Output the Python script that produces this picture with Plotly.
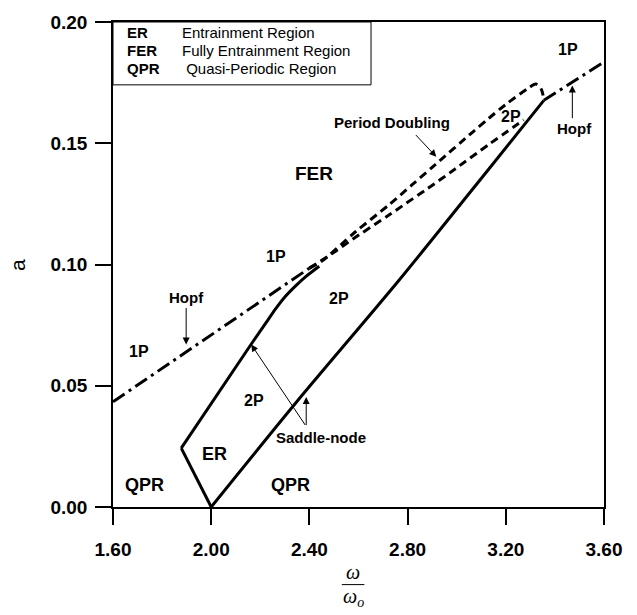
import plotly.graph_objects as go

# ---- data ----
hopf_left_x = [1.60, 2.40]
hopf_left_y = [0.0434, 0.0985]
hopf_right_x = [3.355, 3.60]
hopf_right_y = [0.1677, 0.1835]

er_v_x = [2.00, 1.878]
er_v_y = [0.000, 0.0243]
sn_left_x = [1.878, 2.162, 2.22, 2.263, 2.30, 2.345, 2.39, 2.44]
sn_left_y = [0.0243, 0.0670, 0.0755, 0.0818, 0.0866, 0.0913, 0.0954, 0.0993]
sn_right_x = [2.00, 2.345, 2.765, 3.131, 3.355]
sn_right_y = [0.000, 0.0430, 0.0935, 0.1394, 0.1677]

pd_upper_x = [2.40, 2.452, 2.589, 2.724, 2.82, 2.914, 3.064, 3.131, 3.20, 3.29, 3.322, 3.345, 3.355]
pd_upper_y = [0.0985, 0.1015, 0.1136, 0.1246, 0.1330, 0.1413, 0.1545, 0.1603, 0.1660, 0.1726, 0.1744, 0.1722, 0.1677]
pd_lower_x = [2.40, 2.50, 2.561, 2.724, 2.928, 2.995, 3.131, 3.273]
pd_lower_y = [0.0985, 0.1050, 0.1094, 0.1204, 0.1346, 0.1395, 0.1495, 0.1596]

x_ticks = [1.6, 2.0, 2.4, 2.8, 3.2, 3.6]
x_ticktext = ["1.60", "2.00", "2.40", "2.80", "3.20", "3.60"]
y_ticks = [0.0, 0.05, 0.10, 0.15, 0.20]
y_ticktext = ["0.00", "0.05", "0.10", "0.15", "0.20"]

region_labels = [("FER", 2.42, 0.1374, 19), ("ER", 2.013, 0.0218, 18),
                 ("QPR", 2.325, 0.0089, 18), ("QPR", 1.728, 0.0089, 18)]
state_labels = [("1P", 3.452, 0.1886), ("2P", 3.22, 0.1610), ("1P", 2.263, 0.1035),
                ("2P", 2.52, 0.0860), ("1P", 1.705, 0.0643), ("2P", 2.175, 0.0441)]
text_labels = [("Period Doubling", 2.736, 0.1585), ("Hopf", 3.479, 0.1562),
               ("Hopf", 1.898, 0.0862), ("Saddle-node", 2.447, 0.0288)]
arrows = [((2.828, 0.1540), (2.917, 0.1444)),
          ((3.471, 0.1597), (3.471, 0.1738)),
          ((1.898, 0.0827), (1.898, 0.0670)),
          ((2.387, 0.0332), (2.163, 0.0670)),
          ((2.387, 0.0332), (2.387, 0.0454))]
legend_abbr = ["ER", "FER", "QPR"]
legend_desc = ["Entrainment Region", "Fully Entrainment Region", " Quasi-Periodic Region"]

FONT = "Arial, Liberation Sans, sans-serif"
SERIF = "Liberation Serif, Times New Roman, serif"
fig = go.Figure()

def add_line(xs, ys, dash, shape="linear"):
    fig.add_trace(go.Scatter(x=xs, y=ys, mode="lines",
                             line=dict(color="black", width=3, dash=dash, shape=shape,
                                       smoothing=0.8),
                             showlegend=False, hoverinfo="skip"))

dashdot = "14px,5px,3px,5px"
add_line(hopf_left_x, hopf_left_y, dashdot)
add_line(hopf_right_x, hopf_right_y, dashdot)
add_line(er_v_x, er_v_y, "solid")
add_line(sn_left_x, sn_left_y, "solid", "spline")
add_line(sn_right_x, sn_right_y, "solid", "spline")
add_line(pd_upper_x, pd_upper_y, "8px,5px", "spline")
add_line(pd_lower_x, pd_lower_y, "8px,5px", "spline")

ann = []
for t, x, y, s in region_labels:
    ann.append(dict(x=x, y=y, text=t, showarrow=False,
                    font=dict(family=FONT, size=s, color="black", weight="bold")))
for t, x, y in state_labels:
    ann.append(dict(x=x, y=y, text=t, showarrow=False,
                    font=dict(family=FONT, size=16, color="black", weight="bold")))
for t, x, y in text_labels:
    ann.append(dict(x=x, y=y, text=t, showarrow=False,
                    font=dict(family=FONT, size=15, color="black", weight="bold")))
for (tx, ty), (hx, hy) in arrows:
    ann.append(dict(x=hx, y=hy, ax=tx, ay=ty, xref="x", yref="y", axref="x", ayref="y",
                    text="", showarrow=True, arrowhead=2, arrowsize=1.4, arrowwidth=1,
                    arrowcolor="black", standoff=0, startstandoff=0))

# legend box text
rows = [0.9777, 0.9413, 0.9049]
for i in range(3):
    ann.append(dict(xref="paper", yref="paper", x=0.0244, y=rows[i], text=legend_abbr[i],
                    showarrow=False, xanchor="left", yanchor="middle",
                    font=dict(family=FONT, size=15, color="black", weight="bold")))
    ann.append(dict(xref="paper", yref="paper", x=0.1365, y=rows[i], text=legend_desc[i],
                    showarrow=False, xanchor="left", yanchor="middle",
                    font=dict(family=FONT, size=15, color="black")))

# axis titles
ann.append(dict(xref="paper", yref="paper", x=-0.222, y=0.5, text="a", textangle=-90,
                showarrow=False, font=dict(family=FONT, size=21, color="black")))
ann.append(dict(xref="paper", yref="paper", x=0.4888, y=-0.135, text="ω",
                showarrow=False, yanchor="middle",
                font=dict(family=SERIF, size=20, color="black", style="italic")))
ann.append(dict(xref="paper", yref="paper", x=0.4888, y=-0.186, text="ω<sub>o</sub>",
                showarrow=False, yanchor="middle",
                font=dict(family=SERIF, size=20, color="black", style="italic")))

shapes = [
    dict(type="rect", xref="paper", yref="paper", x0=0, x1=0.5255, y0=0.8704, y1=1,
         line=dict(color="black", width=1)),
    dict(type="line", xref="paper", yref="paper", x0=0.466, x1=0.512, y0=-0.160, y1=-0.160,
         line=dict(color="black", width=1)),
]

axis_common = dict(showgrid=False, zeroline=False, showline=True, linecolor="black",
                   linewidth=1.5, mirror=True, ticks="outside", ticklen=16, tickwidth=1.5,
                   tickcolor="black",
                   tickfont=dict(family=FONT, size=19, color="black", weight="bold"))

fig.update_layout(
    width=637, height=615,
    margin=dict(l=113, r=33, t=13, b=108),
    paper_bgcolor="white", plot_bgcolor="white",
    xaxis=dict(range=[1.6, 3.6], tickvals=x_ticks, ticktext=x_ticktext,
               ticklabelstandoff=8, **axis_common),
    yaxis=dict(range=[0, 0.2], tickvals=y_ticks, ticktext=y_ticktext,
               ticklabelstandoff=4, **axis_common),
    annotations=ann, shapes=shapes, showlegend=False,
)

fig.write_html("out.html")
